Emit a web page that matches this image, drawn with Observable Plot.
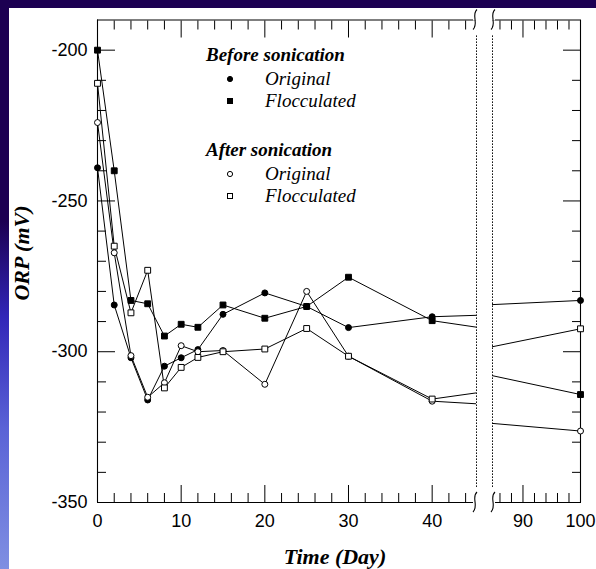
<!DOCTYPE html>
<html>
<head>
<meta charset="utf-8">
<script src="https://cdn.jsdelivr.net/npm/d3@7"></script>
<script src="https://cdn.jsdelivr.net/npm/@observablehq/plot@0.6"></script>
<style>
html, body { margin: 0; padding: 0; }
body { width: 596px; height: 569px; overflow: hidden; background: #1c0052; position: relative; }
#strip { position: absolute; left: 0; top: 8px; width: 9px; height: 561px;
  background: linear-gradient(to bottom, #1c0052 0%, #1c0052 38%, #3226b8 55%, #5a63d6 75%, #7f8fe2 100%); }
#paper { position: absolute; left: 9px; top: 8px; right: 0; bottom: 0; background: #fff; }
#chart { position: absolute; left: 0; top: 0; width: 596px; height: 569px; }
#chart svg { position: absolute; top: 0; }
.serif { position: absolute; font-family: "Liberation Serif", "Times New Roman", serif; font-style: italic; color: #000; white-space: nowrap; line-height: 20px; }
.bold { font-weight: bold; }
.mk { position: absolute; width: 10px; height: 10px; overflow: visible; }
</style>
</head>
<body>
<div id="strip"></div>
<div id="paper"></div>
<div id="chart"></div>
<script>
// ---- data ----
const days = [0, 2, 4, 6, 8, 10, 12, 15, 20, 25, 30, 40, 100];
const beforeOriginal    = [-239, -284.5, -302, -316, -304.8, -302, -299.3, -287.6, -280.5, -285, -292, -288.4, -283];
const beforeFlocculated = [-200, -240, -283, -284.1, -294.8, -290.9, -291.9, -284.5, -288.9, -285, -275.3, -289.7, -314.2];
const afterOriginal     = [-224, -267.2, -301.3, -315.1, -310.3, -298, -300, -299.6, -310.8, -280, -301.5, -316.4, -326.3];
const afterFlocculated  = [-211, -265, -287.1, -273, -312, -305.2, -301.9, -300, -299.1, -292.3, -301.5, -315.7, -292.4];

// axis ticks / labels
const yDomain = [-350, -190];
const yMajor = [-350, -300, -250, -200];
const yMinor = [-340, -330, -320, -310, -290, -280, -270, -260, -240, -230, -220, -210];
const leftDomain = [0, 45.3];
const rightDomain = [84.7, 100];
const xMajorLeft = [0, 10, 20, 30, 40];
const xMinorLeft = [2, 4, 6, 8, 12, 14, 16, 18, 22, 24, 26, 28, 32, 34, 36, 38, 42, 44];
const xMajorRight = [90, 100];
const xMinorRight = [86, 88, 92, 94, 96, 98];
const breakSpan = [-345, -195];

const seriesKeys = ["beforeOriginal", "beforeFlocculated", "afterOriginal", "afterFlocculated"];
const seriesValues = {beforeOriginal, beforeFlocculated, afterOriginal, afterFlocculated};
const markerStyle = {
  beforeOriginal:    {symbol: "circle", fill: "black", r: 3},
  beforeFlocculated: {symbol: "square", fill: "black", r: 3.3},
  afterOriginal:     {symbol: "circle", fill: "white", r: 3},
  afterFlocculated:  {symbol: "square", fill: "white", r: 3.3}
};
const rows = seriesKeys.flatMap(k => days.map((d, i) => ({day: d, orp: seriesValues[k][i], key: k})));

const H = 569, MT = 19.5, MB = 67;
const baseStyle = {fontFamily: "'Liberation Sans', Arial, sans-serif", fontSize: "18px", background: "transparent", color: "black", overflow: "visible"};

function dataMarks(domain) {
  const inDom = d => d.day >= domain[0] - 1e-9 && d.day <= domain[1] + 1e-9;
  const marks = [Plot.line(rows, {x: "day", y: "orp", z: "key", stroke: "black", strokeWidth: 1, clip: true})];
  for (const k of seriesKeys) {
    const s = markerStyle[k];
    marks.push(Plot.dot(rows, {filter: d => d.key === k && inDom(d), x: "day", y: "orp",
      symbol: () => s.symbol, r: s.r, fill: s.fill, stroke: "black", strokeWidth: 1}));
  }
  return marks;
}

function tickAxes(anchorY, signY, xMaj, xMin) {
  const none = () => "";
  return [
    Plot.axisY({anchor: anchorY, ticks: yMajor, tickSize: 18, dx: 18 * signY, tickFormat: none, label: null}),
    Plot.axisY({anchor: anchorY, ticks: yMinor, tickSize: 9, dx: 9 * signY, tickFormat: none, label: null}),
    Plot.axisX({anchor: "bottom", ticks: xMaj, tickSize: 17, dy: -17, tickFormat: none, label: null}),
    Plot.axisX({anchor: "bottom", ticks: xMin, tickSize: 9, dy: -9, tickFormat: none, label: null}),
    Plot.axisX({anchor: "top", ticks: xMaj, tickSize: 17, dy: 17, tickFormat: none, label: null}),
    Plot.axisX({anchor: "top", ticks: xMin, tickSize: 9, dy: 9, tickFormat: none, label: null})
  ];
}

const left = Plot.plot({
  width: 482, height: H, marginTop: MT, marginBottom: MB, marginLeft: 97, marginRight: 6,
  x: {type: "linear", domain: leftDomain}, y: {type: "linear", domain: yDomain},
  style: baseStyle,
  marks: [
    Plot.ruleX([leftDomain[0]], {stroke: "black", strokeWidth: 1.1}),
    Plot.ruleY(yDomain, {stroke: "black", strokeWidth: 1.1}),
    Plot.ruleX([leftDomain[1]], {y1: breakSpan[0], y2: breakSpan[1], stroke: "black", strokeWidth: 1, strokeDasharray: "1.5,1.5"}),
    ...tickAxes("left", 1, xMajorLeft, xMinorLeft),
    Plot.axisY({anchor: "left", ticks: yMajor, tickSize: 0, tickPadding: 10, tickFormat: d => String(d), label: null}),
    Plot.axisX({anchor: "bottom", ticks: xMajorLeft, tickSize: 0, tickPadding: 12, tickFormat: d => String(d), label: null}),
    ...dataMarks(leftDomain)
  ]
});

const right = Plot.plot({
  width: 112, height: H, marginTop: MT, marginBottom: MB, marginLeft: 8, marginRight: 16,
  x: {type: "linear", domain: rightDomain}, y: {type: "linear", domain: yDomain},
  style: baseStyle,
  marks: [
    Plot.ruleX([rightDomain[1]], {stroke: "black", strokeWidth: 1.1}),
    Plot.ruleY(yDomain, {stroke: "black", strokeWidth: 1.1}),
    Plot.ruleX([rightDomain[0]], {y1: breakSpan[0], y2: breakSpan[1], stroke: "black", strokeWidth: 1, strokeDasharray: "1.5,1.5"}),
    ...tickAxes("right", -1, xMajorRight, xMinorRight),
    Plot.axisX({anchor: "bottom", ticks: xMajorRight, tickSize: 0, tickPadding: 12, tickFormat: d => String(d), label: null}),
    ...dataMarks(rightDomain)
  ]
});

function squiggles(svg, xVal, dir) {
  const sx = svg.scale("x"), sy = svg.scale("y");
  const x = sx.apply(xVal);
  const sel = d3.select(svg);
  for (const yv of yDomain) {
    const y = sy.apply(yv);
    sel.append("path")
      .attr("d", `M${x - 3 * dir},${y - 1} L${x + 3 * dir},${y - 1} L${x + 3 * dir},${y + 1} L${x - 3 * dir},${y + 1}Z`)
      .attr("fill", "white");
    sel.append("path")
      .attr("d", `M${x - 1 * dir + 2},${y - 10} C${x - 1 * dir - 4},${y - 5} ${x - 1 * dir + 4},${y + 4} ${x - 1 * dir - 2},${y + 10}`)
      .attr("fill", "none").attr("stroke", "black").attr("stroke-width", 1.1);
  }
}
squiggles(left, leftDomain[1], 1);
squiggles(right, rightDomain[0], -1);

const chart = document.getElementById("chart");
left.style.left = "0px";
right.style.left = "484px";
chart.appendChild(left);
chart.appendChild(right);

// ---- legend & titles (HTML overlay) ----
function addText(txt, x, cy, size, bold, anchor) {
  const d = document.createElement("div");
  d.className = "serif" + (bold ? " bold" : "");
  d.textContent = txt;
  d.style.fontSize = size + "px";
  d.style.left = x + "px";
  d.style.top = (cy - 10) + "px";
  if (anchor === "middle") d.style.transform = "translateX(-50%)";
  document.body.appendChild(d);
  return d;
}
function addMarker(style, cx, cy) {
  const ns = "http://www.w3.org/2000/svg";
  const s = document.createElementNS(ns, "svg");
  s.setAttribute("class", "mk");
  s.setAttribute("viewBox", "-5 -5 10 10");
  s.style.left = (cx - 5) + "px";
  s.style.top = (cy - 5) + "px";
  let el;
  if (style.symbol === "circle") {
    el = document.createElementNS(ns, "circle");
    el.setAttribute("r", 2.6);
  } else {
    el = document.createElementNS(ns, "rect");
    el.setAttribute("x", -2.5); el.setAttribute("y", -2.5);
    el.setAttribute("width", 5); el.setAttribute("height", 5);
  }
  el.setAttribute("fill", style.fill);
  el.setAttribute("stroke", "black");
  el.setAttribute("stroke-width", 1);
  s.appendChild(el);
  document.body.appendChild(s);
}
const legendGroups = [
  {title: "Before sonication", items: [["beforeOriginal", "Original"], ["beforeFlocculated", "Flocculated"]]},
  {title: "After sonication", items: [["afterOriginal", "Original"], ["afterFlocculated", "Flocculated"]]}
];
const legendRows = [[55.3, 79, 100.8], [149.7, 173.5, 195.5]];
legendGroups.forEach((g, gi) => {
  addText(g.title, 206, legendRows[gi][0], 19, true);
  g.items.forEach(([k, label], ii) => {
    addMarker(markerStyle[k], 230, legendRows[gi][ii + 1]);
    addText(label, 265, legendRows[gi][ii + 1], 19, false);
  });
});

addText("Time (Day)", 335, 557, 22, true, "middle");
const yl = document.createElement("div");
yl.className = "serif bold";
yl.textContent = "ORP (mV)";
yl.style.fontSize = "22px";
yl.style.lineHeight = "22px";
yl.style.left = "22px";
yl.style.top = "253px";
yl.style.transform = "translate(-50%, -50%) rotate(-90deg)";
document.body.appendChild(yl);
</script>
</body>
</html>
